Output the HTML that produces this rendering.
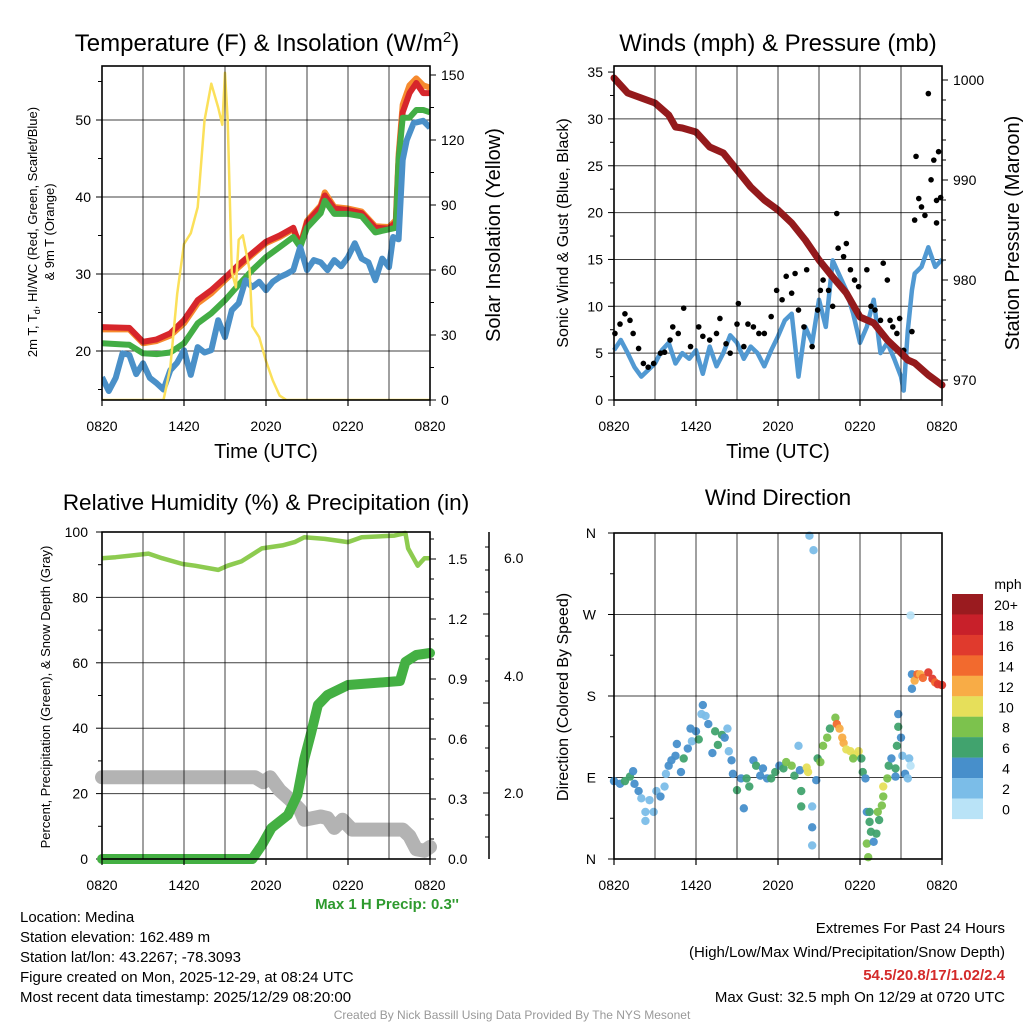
<!DOCTYPE html>
<html><head><meta charset="utf-8"><style>
html,body{margin:0;padding:0;background:#fff;}
svg{display:block;font-family:"Liberation Sans",sans-serif;}
</style></head><body>
<svg id="chart" width="1024" height="1024" viewBox="0 0 1024 1024" xmlns="http://www.w3.org/2000/svg"></svg>
<script>
// ===== Panel 1: temperature & insolation =====
const tHours=[0,2,3,4,5,6,7,8,9,10,11,12,13,14,14.5,15,16,16.3,17,18,19,20,21,21.5,21.7,22,22.5,23,23.5,24];
const tempRed=[23.1,23,21.2,21.5,22.3,24,26.6,27.9,29.5,31.2,32.7,34.2,35,36,33.5,36.7,38.7,40.2,38.5,38.3,37.9,36,35.9,36.7,44.8,51,53.5,54.8,53.5,53.5];
const tempOrange=[22.8,22.8,21,21.3,22,23.6,26.2,27.5,29.2,30.9,32.5,34,34.8,35.8,33.8,36.9,38.9,40.6,38.7,38.5,38.1,36.2,36.1,37,45.5,52,54.5,55.4,54.5,54.2];
const tempGreen=[21,20.8,19.7,19.6,19.8,21,23.6,24.9,26.6,28.6,30.5,32.2,33.5,34.8,33.5,36,37.9,39.5,37.8,37.8,37.5,35.4,35.8,36,44.8,50.3,50.3,51.3,51.3,51];
const wcHours=[0,0.5,1,1.5,2,2.5,3,3.5,4,4.5,5,5.5,6,6.5,7,7.5,8,8.5,9,9.5,10,10.5,11,11.5,12,12.5,13,13.5,14,14.5,15,15.5,16,16.5,17,17.5,18,18.5,19,19.5,20,20.5,21,21.3,21.7,22,22.3,22.8,23.5,24];
const windChill=[16.6,14.8,16.5,19.7,19.5,17,18.4,16.5,15.8,15,17.5,18.5,20.1,16.9,20.5,19.8,20.1,24,21.8,25.3,26.2,29.2,28.3,29,27.9,29,29.6,30,30.5,33.5,30.5,31.8,31.5,30.5,31.8,31,32.2,34,32,31.5,29.2,32,30.9,34.8,34.5,44.8,47.4,49.6,49.9,49];
const solarHours=[0,4.5,5,5.5,6,6.5,7,7.5,8,8.5,8.8,9,9.2,9.5,9.8,10,10.3,10.8,11,11.5,12,12.5,13,13.5,24];
const solarVals=[0,0,15,49,72,77,89,129,146,135,127,151,129,59,52,74,76,60,34,29,18,9,2,0,0];
const tempTicks=[20,30,40,50];
const solarTicks=[0,30,60,90,120,150];
const timeTicks=[0,6,12,18,24];
const timeLabels=["0820","1420","2020","0220","0820"];
// ===== Panel 2: winds & pressure =====
const presHours=[0,1,2,3,4,4.5,5,6,7,8,9,10,11,12,13,14,15,16,17,18,19,20,21,21.5,22,23,24];
const presVals=[1000.2,998.7,998.2,997.7,996.5,995.3,995.2,994.8,993.3,992.7,991,989.3,988,987,985.7,984,982,980.3,978.7,976.3,975.7,974,972.7,972,971.7,970.5,969.5];
const windHours=[0,0.5,1,1.5,2,2.5,3,3.5,4,4.5,5,5.5,6,6.5,7,7.5,8,8.5,9,9.5,10,10.5,11,11.5,12,12.5,13,13.5,14,14.5,15,15.5,16,16.5,17,17.5,18,18.5,19,19.5,20,20.5,21,21.2,21.5,21.8,22,22.5,23,23.5,24];
const windVals=[5.3,6.4,5,3.5,2.5,3.2,3.9,5.3,6.1,3.9,5,4.4,5.3,2.8,5.7,3.6,5,6.9,6.1,4.4,5.7,5,3.6,5.3,6.8,8.5,9.2,2.5,7.8,6.1,10.7,7.8,14.9,13.3,11.7,9.2,6.1,7.8,10.7,5,6.1,4.4,2.5,1,7.4,11.7,13.5,14.2,16.3,14.2,15];
const gustHours=[0.07,0.44,0.8,1.17,1.4,1.8,2.15,2.5,2.9,3.4,3.7,4.1,4.3,4.7,5.1,5.6,6.2,6.5,7,7.5,7.75,8.2,8.5,9,9.1,9.5,9.8,10.2,10.6,11,11.5,11.9,12.3,12.6,13,13.25,13.5,13.9,14.1,14.5,14.9,15.1,15.3,15.7,16,16.3,16.4,16.8,17,17.3,17.6,17.9,18.5,18.8,19.1,19.5,19.7,20,20.2,20.4,20.7,20.9,21.2,21.8,22,22.1,22.3,22.5,22.75,23,23.2,23.4,23.6,23.75,23.9,23.6];
const gustVals=[7.1,8.1,9.2,8.5,7.1,5.5,3.9,3.5,3.9,5,5.1,6.4,7.8,7.1,9.8,5.7,7.8,6.8,6.4,7.1,8.7,6,5,8.1,10.3,5.7,8.1,7.8,7.1,7.1,8.9,11.7,10.7,13.2,11.4,13.5,9.6,7.8,13.9,5.7,9.6,11.7,12.8,11.7,10,19.9,16.2,15.3,16.7,13.9,12.8,12.1,13.9,10,9.6,8.5,14.6,12.8,8.5,7.8,7.1,8.7,5.3,7.3,19.2,26,21.5,20.6,19.7,32.7,23.5,25.6,21.3,26.5,21.6,18.9];
const windTicks=[0,5,10,15,20,25,30,35];
const presTicks=[970,980,990,1000];
// ===== Panel 3: RH & precipitation =====
const rhHours=[0,1,3.4,4.4,5.9,6.8,8.5,9.2,10.2,11.7,13.2,14.1,14.8,16.3,18,19,21.4,22.2,22.4,23.1,23.6,24];
const rhVals=[92,92.3,93.4,92,90.2,89.7,88.4,89.7,91,95,95.9,96.9,98.4,97.9,96.9,98.4,98.9,99.7,95,89.7,92,92];
const precipHours=[0,11,11.7,12.4,13.6,14.3,14.8,15.3,15.8,16.5,18,21.8,22.2,23,24];
const precipVals=[0,0,0.07,0.155,0.22,0.32,0.5,0.63,0.77,0.82,0.87,0.89,0.985,1.02,1.03];
const snowHours=[0,11.2,11.8,12.3,13,13.8,14.5,14.8,16,16.5,17,17.6,18.3,22,22.5,23,23.6,24];
const snowVals=[25,25,23.5,25,21,18,15,12,13,12.5,9.5,12,9,9,7,3,2.5,3.7];
const rhTicks=[0,20,40,60,80,100];
const precipTicks=[0,0.3,0.6,0.9,1.2,1.5];
// ===== Panel 4: wind direction =====
const dirHours=[0,0.44,0.8,1.17,1.4,1.5,1.8,2,2.3,2.3,2.6,2.9,3.1,3.4,3.7,3.8,4,4.2,4.5,4.6,4.9,5.1,5.4,5.6,5.7,6,6.2,6.4,6.5,6.7,6.9,7.2,7.4,7.6,7.9,8.1,8.3,8.4,8.6,8.7,9,9.3,9.5,9.7,9.9,10.2,10.4,10.7,10.9,11.2,11.5,11.8,12.1,12.4,12.6,13,13.2,13.5,13.6,13.7,13.7,14.1,14.2,14.3,14.5,14.5,14.5,14.6,14.8,14.9,15.1,15.3,15.6,15.8,16.2,16.3,16.5,16.7,16.8,17,17.3,17.6,17.5,17.9,18.1,18.2,18.4,18.5,18.6,18.5,18.7,18.7,18.8,19,19.2,19.3,19.4,19.6,19.7,19.7,20,20.1,20.3,20.6,20.6,20.7,20.8,20.8,21,21.1,21.3,21.5,21.6,21.7,21.7,21.8,21.8,22,22.2,22.4,22.6,23,23.3,23.5,23.7,24];
const dirVals=[86,83,86,91,97,83,75,67,52,42,65,52,75,69,80,94,103,109,114,127,96,111,122,144,130,141,132,160,170,158,149,117,141,126,137,134,144,119,109,94,76,89,56,89,80,109,103,92,100,89,89,96,103,100,107,103,92,125,98,75,58,101,96,357,35,15,58,341,87,111,107,125,134,144,156,149,144,134,128,121,119,115,111,119,111,96,89,17,2,52,52,41,30,19,28,52,43,59,69,80,89,103,111,100,91,125,146,160,134,114,94,89,111,103,269,204,188,197,204,204,200,206,199,195,193,192];
const dirSpeeds=[4,4,6,6,4,4,4,2,2,2,2,2,2,4,2,2,4,4,4,4,4,6,4,4,2,4,6,2,4,2,4,4,6,6,6,4,2,2,4,4,6,4,4,6,6,4,6,4,4,4,6,6,4,6,8,8,6,2,4,6,6,10,10,2,4,2,2,2,4,6,8,8,8,6,8,14,12,12,12,10,10,10,8,10,6,6,4,8,8,4,6,6,6,4,6,8,6,8,8,10,8,6,4,6,4,6,6,4,4,2,4,2,2,0,0,4,4,12,14,12,14,16,16,14,16,16];
const speedBins=["0","2","4","6","8","10","12","14","16","18","20+"];
const speedColors=["#b9e3f7","#7bbde8","#478fcb","#41a36e","#7cc24d","#e6df5a","#f8ac46","#f26a2e","#e03a2d","#c8202a","#9a1b1f"];
const dirTicks=[0,90,180,270,360];
const dirLabels=["N","E","S","W","N"];

const NS="http://www.w3.org/2000/svg";
const svg=document.getElementById('chart');
function mk(tag,attrs,parent,text){const e=document.createElementNS(NS,tag);for(const k in attrs)e.setAttribute(k,attrs[k]);if(text!==undefined)e.textContent=text;(parent||svg).appendChild(e);return e;}
function txt(x,y,s,size,anchor,parent,extra){const t=mk('text',Object.assign({x:x,y:y,'font-size':size,'text-anchor':anchor||'middle',fill:'#000'},extra||{}),parent,s);return t;}

const xOf=(L,h)=>L+h*(328/24);
const p1x=h=>xOf(102,h), p2x=h=>xOf(614,h), p3x=h=>xOf(102,h), p4x=h=>xOf(614,h);
const yTemp=v=>351-(v-20)*7.7;
const ySolar=s=>400-s*65/30;
const yWind=v=>400-v*9.37;
const yPres=p=>80+(1000-p)*10;
const yRH=v=>859-v*3.27;
const yPrecip=p=>859-p*200;
const yDir=d=>859-d*326/360;

function pathOf(hs,vs,fx,fy){return hs.map((h,i)=>(i?'L':'M')+fx(h).toFixed(1)+' '+fy(vs[i]).toFixed(1)).join(' ');}

function frame(g,x0,y0,x1,y1,name){
  for(let h=3;h<24;h+=3){const x=xOf(x0,h);
    const l=mk('line',{x1:x,y1:y0,x2:x,y2:y1,stroke:'#000','stroke-opacity':0.75,'stroke-width':1},g);
    }
  const r=mk('rect',{x:x0,y:y0,width:x1-x0,height:y1-y0,fill:'none',stroke:'#000','stroke-width':1.6},g);
  
  timeTicks.forEach((h,i)=>{const x=xOf(x0,h);
    mk('line',{x1:x,y1:y1,x2:x,y2:y1+6,stroke:'#000','stroke-width':1.2},g);
    const t=txt(x,y1+31,timeLabels[i],14,'middle',g);
    });
}
function hgrid(g,x0,x1,y,name){const l=mk('line',{x1:x0,y1:y,x2:x1,y2:y,stroke:'#000','stroke-opacity':0.75,'stroke-width':1},g);
  }

// ---------- Panel 1 ----------
const g1=mk('g',{});

tempTicks.forEach(v=>{hgrid(g1,102,430,yTemp(v));mk('line',{x1:96,y1:yTemp(v),x2:102,y2:yTemp(v),stroke:'#000'},g1);
  const t=txt(91,yTemp(v)+5,String(v),14,'end',g1);});
[15,25,35,45,55].forEach(v=>mk('line',{x1:98,y1:yTemp(v),x2:102,y2:yTemp(v),stroke:'#000'},g1));
solarTicks.forEach(v=>{mk('line',{x1:430,y1:ySolar(v),x2:436,y2:ySolar(v),stroke:'#000'},g1);
  const t=txt(441,ySolar(v)+5,String(v),14,'start',g1);});
[15,45,75,105,135].forEach(v=>mk('line',{x1:430,y1:ySolar(v),x2:434,y2:ySolar(v),stroke:'#000'},g1));
const clip1=mk('clipPath',{id:'c1'},g1);mk('rect',{x:102,y:66,width:328,height:334},clip1);
const s1=mk('g',{'clip-path':'url(#c1)'},g1);
let e;
e=mk('path',{d:pathOf(tHours,tempOrange,p1x,yTemp),fill:'none',stroke:'#f68a2e','stroke-width':6,'stroke-linejoin':'round'},s1);

e=mk('path',{d:pathOf(tHours,tempRed,p1x,yTemp),fill:'none',stroke:'#d7262b','stroke-width':6,'stroke-linejoin':'round'},s1);

e=mk('path',{d:pathOf(tHours,tempGreen,p1x,yTemp),fill:'none',stroke:'#43ad45','stroke-width':6,'stroke-linejoin':'round'},s1);

e=mk('path',{d:pathOf(wcHours,windChill,p1x,yTemp),fill:'none',stroke:'#4a90c8','stroke-width':6,'stroke-linejoin':'round'},s1);

e=mk('path',{d:pathOf(solarHours,solarVals,p1x,ySolar),fill:'none',stroke:'#fbe05a','stroke-width':2.5,'stroke-linejoin':'round'},s1);

frame(g1,102,66,430,400,'temperature-panel');
e=txt(267,51,'',24,'middle',g1);e.innerHTML='Temperature (F) &amp; Insolation (W/m<tspan dy="-9" font-size="15">2</tspan><tspan dy="9">)</tspan>';

e=txt(266,458,'Time (UTC)',20,'middle',g1);
e=txt(0,0,'',13,'middle',g1,{transform:'translate(37,232) rotate(-90)'});e.innerHTML='2m T, T<tspan dy="3" font-size="9">d</tspan><tspan dy="-3">, HI/WC (Red, Green, Scarlet/Blue)</tspan>';

e=txt(0,0,'& 9m T (Orange)',13,'middle',g1,{transform:'translate(54,232) rotate(-90)'});

e=txt(0,0,'Solar Insolation (Yellow)',20,'middle',g1,{transform:'translate(500,235) rotate(-90)'});


// ---------- Panel 2 ----------
const g2=mk('g',{});

windTicks.forEach(v=>{if(v>0&&v<35)hgrid(g2,614,942,yWind(v));mk('line',{x1:608,y1:yWind(v),x2:614,y2:yWind(v),stroke:'#000'},g2);
  e=txt(603,yWind(v)+5,String(v),14,'end',g2);});
[2.5,7.5,12.5,17.5,22.5,27.5,32.5].forEach(v=>mk('line',{x1:610,y1:yWind(v),x2:614,y2:yWind(v),stroke:'#000'},g2));
presTicks.forEach(v=>{mk('line',{x1:942,y1:yPres(v),x2:948,y2:yPres(v),stroke:'#000'},g2);
  e=txt(953,yPres(v)+5,String(v),14,'start',g2);});
[972,974,976,978,982,984,986,988,992,994,996,998].forEach(v=>mk('line',{x1:942,y1:yPres(v),x2:946,y2:yPres(v),stroke:'#000'},g2));
const clip2=mk('clipPath',{id:'c2'},g2);mk('rect',{x:608,y:62,width:340,height:344},clip2);
const s2=mk('g',{'clip-path':'url(#c2)'},g2);
e=mk('path',{d:pathOf(windHours,windVals,p2x,yWind),fill:'none',stroke:'#5199d2','stroke-width':4.5,'stroke-linejoin':'round'},s2);

gustHours.forEach((h,i)=>{const c=mk('circle',{cx:p2x(h),cy:yWind(gustVals[i]),r:2.8,fill:'#000'},s2);
  });
e=mk('path',{d:pathOf(presHours,presVals,p2x,yPres),fill:'none',stroke:'#941a1c','stroke-width':7,'stroke-linejoin':'round','stroke-linecap':'round'},s2);

frame(g2,614,66,942,400,'wind-pressure-panel');
e=txt(778,51,'Winds (mph) & Pressure (mb)',24,'middle',g2);
e=txt(778,458,'Time (UTC)',20,'middle',g2);
e=txt(0,0,'Sonic Wind & Gust (Blue, Black)',16,'middle',g2,{transform:'translate(568,233) rotate(-90)'});

e=txt(0,0,'Station Pressure (Maroon)',20,'middle',g2,{transform:'translate(1019,233) rotate(-90)'});


// ---------- Panel 3 ----------
const g3=mk('g',{});

rhTicks.forEach(v=>{if(v>0&&v<100)hgrid(g3,102,430,yRH(v));mk('line',{x1:96,y1:yRH(v),x2:102,y2:yRH(v),stroke:'#000'},g3);
  e=txt(88,yRH(v)+5,String(v),14,'end',g3);});
[10,30,50,70,90].forEach(v=>mk('line',{x1:98,y1:yRH(v),x2:102,y2:yRH(v),stroke:'#000'},g3));
precipTicks.forEach(v=>{mk('line',{x1:430,y1:yPrecip(v),x2:436,y2:yPrecip(v),stroke:'#000'},g3);
  e=txt(448,yPrecip(v)+5,v.toFixed(1),14,'start',g3);});
[0.1,0.2,0.4,0.5,0.7,0.8,1.0,1.1,1.3,1.4,1.6].forEach(v=>mk('line',{x1:430,y1:yPrecip(v),x2:434,y2:yPrecip(v),stroke:'#000'},g3));
e=mk('line',{x1:489,y1:532,x2:489,y2:859,stroke:'#000','stroke-width':1.5},g3);

[614,703,793].forEach(y=>mk('line',{x1:483,y1:y,x2:489,y2:y,stroke:'#000'},g3));
[547,570,592,636,659,681,726,748,771,815,837].forEach(y=>mk('line',{x1:485,y1:y,x2:489,y2:y,stroke:'#000'},g3));
[["6.0",563],["4.0",681],["2.0",798]].forEach(a=>{e=txt(504,a[1],a[0],14,'start',g3);});
const clip3=mk('clipPath',{id:'c3'},g3);mk('rect',{x:92,y:528,width:350,height:340},clip3);
const s3=mk('g',{'clip-path':'url(#c3)'},g3);
e=mk('path',{d:pathOf(rhHours,rhVals,p3x,yRH),fill:'none',stroke:'#8dcb50','stroke-width':4.5,'stroke-linejoin':'round'},s3);

e=mk('path',{d:pathOf(snowHours,snowVals,p3x,yRH),fill:'none',stroke:'#b3b3b3','stroke-width':14,'stroke-linejoin':'round','stroke-linecap':'round'},s3);

e=mk('path',{d:pathOf(precipHours,precipVals,p3x,yPrecip),fill:'none',stroke:'#44b043','stroke-width':10,'stroke-linejoin':'round','stroke-linecap':'round'},s3);

frame(g3,102,532,430,859,'humidity-precip-panel');
e=txt(266,510,'Relative Humidity (%) & Precipitation (in)',22.5,'middle',g3);
e=txt(0,0,'Percent, Precipitation (Green), & Snow Depth (Gray)',13,'middle',g3,{transform:'translate(50,697) rotate(-90)'});

e=txt(387,909,"Max 1 H Precip: 0.3''",15,'middle',g3,{fill:'#2e9a2e','font-weight':'bold'});


// ---------- Panel 4 ----------
const g4=mk('g',{});

dirTicks.forEach((d,i)=>{if(d>0&&d<360)hgrid(g4,614,942,yDir(d));mk('line',{x1:608,y1:yDir(d),x2:614,y2:yDir(d),stroke:'#000'},g4);
  e=txt(596,yDir(d)+5,dirLabels[i],14,'end',g4);});
[45,135,225,315].forEach(d=>mk('line',{x1:610,y1:yDir(d),x2:614,y2:yDir(d),stroke:'#000'},g4));
const clip4=mk('clipPath',{id:'c4'},g4);mk('rect',{x:608,y:528,width:340,height:336},clip4);
const s4=mk('g',{'clip-path':'url(#c4)'},g4);
dirHours.forEach((h,i)=>{const b=Math.min(10,Math.floor(dirSpeeds[i]/2));
  const c=mk('circle',{cx:p4x(h),cy:yDir(dirVals[i]),r:4.2,fill:speedColors[b],'fill-opacity':0.95},s4);
  });
frame(g4,614,533,942,859,'wind-direction-panel');
e=txt(778,505,'Wind Direction',22.5,'middle',g4);
e=txt(0,0,'Direction (Colored By Speed)',16,'middle',g4,{transform:'translate(568,697) rotate(-90)'});

const cb=mk('g',{},g4);
e=txt(1008,589,'mph',14,'middle',cb);
speedBins.forEach((s,i)=>{const k=10-i;const y=594+i*20.45;
  const r=mk('rect',{x:952,y:y,width:31,height:20.6,fill:speedColors[k]},cb);
  
  const t=txt(1006,y+16,speedBins[k],14,'middle',cb);});

// ---------- Footer ----------
const foot=mk('g',{});
["Location: Medina","Station elevation: 162.489 m","Station lat/lon: 43.2267; -78.3093","Figure created on Mon, 2025-12-29, at 08:24 UTC","Most recent data timestamp: 2025/12/29 08:20:00"].forEach((s,i)=>{
  const t=txt(20,922+i*20,s,15,'start',foot);});
e=txt(1005,933,'Extremes For Past 24 Hours',15,'end',foot);
e=txt(1005,957,'(High/Low/Max Wind/Precipitation/Snow Depth)',15,'end',foot);
e=txt(1005,980,'54.5/20.8/17/1.02/2.4',15,'end',foot,{fill:'#d42a2a','font-weight':'bold'});
e=txt(1005,1002,'Max Gust: 32.5 mph On 12/29 at 0720 UTC',15,'end',foot);
e=txt(512,1019,'Created By Nick Bassill Using Data Provided By The NYS Mesonet',12,'middle',foot,{fill:'#999'});
</script>
</body></html>
